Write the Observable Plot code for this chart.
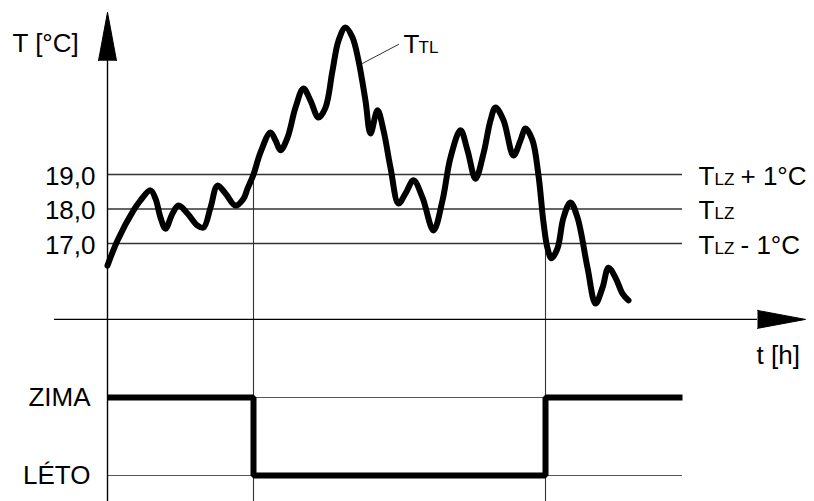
<!DOCTYPE html>
<html><head><meta charset="utf-8">
<script src="https://cdn.jsdelivr.net/npm/d3@7"></script>
<script src="https://cdn.jsdelivr.net/npm/@observablehq/plot@0.6"></script>
<style>
html,body{margin:0;padding:0;background:#fff;}
#chart svg{display:block;overflow:hidden;}
</style></head>
<body><div id="chart"></div>
<script>
// ---- data ----
const hours = [0,0.5,1.3,1.65,2.15,2.4,2.65,2.9,3.25,3.55,4.0,4.5,4.8,5.15,5.5,5.9,6.4,6.8,7.0,7.3,7.65,8.15,8.4,8.65,9.0,9.4,9.8,10.15,10.55,10.9,11.25,11.55,11.9,12.25,12.55,12.9,13.15,13.5,13.8,14.15,14.55,14.9,15.3,15.75,16.3,16.75,17.15,17.65,18.0,18.4,18.8,19.15,19.4,19.8,20.3,20.65,20.9,21.25,21.55,21.8,22.0,22.2,22.5,22.8,23.15,23.5,24.0,24.4,24.75,25.05,25.4,25.75,26.05];
const temps = [16.36,17.09,17.96,18.25,18.54,18.30,17.75,17.43,17.87,18.10,17.87,17.52,17.46,18.04,18.68,18.45,18.10,18.30,18.59,19.0,19.64,20.22,19.99,19.70,20.07,20.94,21.49,21.14,20.65,20.94,22.01,22.88,23.26,22.97,22.30,21.14,20.19,20.86,20.28,19.20,18.16,18.45,18.83,18.33,17.38,18.25,19.49,20.28,19.70,18.88,19.61,20.57,20.94,20.57,19.55,19.99,20.33,19.99,18.97,17.61,16.86,16.57,16.86,17.75,18.19,17.75,16.30,15.26,15.72,16.30,16.01,15.55,15.35];
const levels = [17, 18, 19];
const levelRest = ["- 1°C", "", "+ 1°C"];
const switchTimes = [7.3, 21.9];
const switchLevels = [19, 17];
const modes = ["ZIMA", "LÉTO"];
const modeTimes = [0, 7.3, 21.9, 28.75];
const modeValues = ["ZIMA", "LÉTO", "ZIMA", "ZIMA"];
const lineEnd = 28.75;
const axisT = 14.8;       // t axis level
const axisXStart = -2.65, axisXArrowBase = 32.5, axisXArrowTip = 34.9;
const axisYArrowBase = 22.3, axisYArrowTip = 23.7, yBottom = 12.5;
const labelX = 29.55;

const font = "'Liberation Sans', Arial, sans-serif";
const X = {domain: [0, 26], range: [107, 627]};

const switches = switchTimes.map((t, i) => ({t, from: switchLevels[i]}));
const arrowY = [{x: -0.45, y: axisYArrowBase}, {x: 0, y: axisYArrowTip}, {x: 0.45, y: axisYArrowBase}];
const arrowX = [{x: axisXArrowBase, y: axisT + 0.26}, {x: axisXArrowTip, y: axisT}, {x: axisXArrowBase, y: axisT - 0.26}];
const rightLabels = levels.map((v, i) => ({y: v, rest: levelRest[i]}));

const topChart = Plot.plot({
  width: 814, height: 380,
  marginLeft: 107, marginTop: 0, marginRight: 0, marginBottom: 0,
  style: {fontFamily: font, fontSize: "26px", color: "#000", background: "#fff"},
  x: {...X, axis: null},
  y: {domain: [17, 19], range: [243, 174], axis: null},
  marks: [
    Plot.ruleY(levels, {x1: 0, x2: lineEnd, stroke: "#333", strokeWidth: 1.4}),
    Plot.ruleX(switches, {x: "t", y1: "from", y2: yBottom, stroke: "#333", strokeWidth: 1.1}),
    Plot.ruleX([0], {y1: yBottom, y2: axisYArrowBase, stroke: "#000", strokeWidth: 1.4}),
    Plot.ruleY([axisT], {x1: axisXStart, x2: axisXArrowBase, stroke: "#000", strokeWidth: 1.4}),
    Plot.line(arrowY, {x: "x", y: "y", fill: "#000", stroke: "#000", strokeWidth: 1}),
    Plot.line(arrowX, {x: "x", y: "y", fill: "#000", stroke: "#000", strokeWidth: 1}),
    Plot.line(hours, {x: hours, y: temps, stroke: "#000", strokeWidth: 6, curve: "catmull-rom", strokeLinejoin: "round", strokeLinecap: "round"}),
    Plot.line([{x: 12.75, y: 22.22}, {x: 14.55, y: 22.77}], {x: "x", y: "y", stroke: "#333", strokeWidth: 1}),
    Plot.axisY({ticks: levels, tickFormat: d => d.toFixed(1).replace(".", ","), tickSize: 0, tickPadding: 12, fontSize: 26, dy: 2, label: null}),
    // right labels
    Plot.text(rightLabels, {x: labelX, y: "y", text: d => "T", textAnchor: "start", lineAnchor: "bottom", dy: 10, fontSize: 26}),
    Plot.text(rightLabels, {x: labelX, y: "y", text: d => "LZ", textAnchor: "start", lineAnchor: "bottom", dy: 10, dx: 16, fontSize: 17}),
    Plot.text(rightLabels, {x: labelX, y: "y", text: "rest", textAnchor: "start", lineAnchor: "bottom", dy: 10, dx: 42, fontSize: 26}),
    // TTL label
    Plot.text(["T"], {x: 14.8, y: 22.51, text: d => d, textAnchor: "start", lineAnchor: "bottom", fontSize: 26}),
    Plot.text(["TL"], {x: 14.8, y: 22.51, text: d => d, textAnchor: "start", lineAnchor: "bottom", dx: 15, fontSize: 17}),
    // axis titles
    Plot.text(["T [°C]"], {x: -4.75, y: 22.54, text: d => d, textAnchor: "start", lineAnchor: "bottom", fontSize: 26}),
    Plot.text(["t [h]"], {x: 32.45, y: 13.52, text: d => d, textAnchor: "start", lineAnchor: "bottom", fontSize: 26})
  ]
});

const modeData = modeTimes.map((t, i) => ({t, m: modeValues[i]}));
const bottomChart = Plot.plot({
  width: 814, height: 121,
  marginLeft: 107, marginTop: 0, marginRight: 0, marginBottom: 0,
  style: {fontFamily: font, fontSize: "26px", color: "#000", background: "#fff"},
  x: {...X, axis: null},
  y: {type: "point", domain: modes, range: [17, 95], padding: 0, axis: null},
  marks: [
    Plot.ruleY(modes, {x1: 0, x2: lineEnd, stroke: "#555", strokeWidth: 1.1}),
    Plot.ruleX(switchTimes, {stroke: "#333", strokeWidth: 1.1}),
    Plot.ruleX([0], {stroke: "#000", strokeWidth: 1.4}),
    Plot.line(modeData, {x: "t", y: "m", curve: "step-after", stroke: "#000", strokeWidth: 6, strokeLinejoin: "miter", strokeLinecap: "butt"}),
    Plot.axisY({tickSize: 0, tickPadding: 15, fontSize: 26, dx: -2, label: null})
  ]
});

document.getElementById("chart").append(topChart, bottomChart);
</script>
</body></html>
